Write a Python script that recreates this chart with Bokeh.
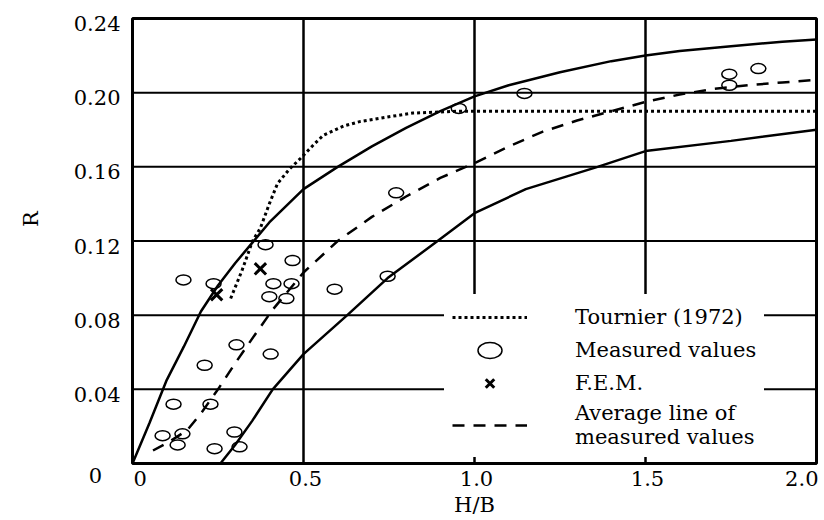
from bokeh.plotting import figure
from bokeh.models import Range1d, Legend, LegendItem, Label
from bokeh.embed import file_html
from bokeh.resources import INLINE
import math

# ---------------- data ----------------
x_lim = [0, 2.0]
y_lim = [0, 0.24]
# upper envelope (solid)
upper_x = [0, 0.05, 0.1, 0.15, 0.2, 0.25, 0.3, 0.35, 0.4, 0.5, 0.6, 0.7, 0.8, 0.9, 1.0, 1.1, 1.25, 1.4, 1.5, 1.6, 1.75, 1.9, 2.0]
upper_y = [0, 0.022, 0.045, 0.063, 0.082, 0.096, 0.108, 0.119, 0.130, 0.148, 0.160, 0.171, 0.181, 0.190, 0.198, 0.204, 0.211, 0.217, 0.220, 0.2225, 0.225, 0.2275, 0.2287]
# lower envelope (solid)
lower_x = [0.257, 0.3, 0.35, 0.41, 0.5, 0.628, 0.746, 0.892, 1.0, 1.15, 1.36, 1.5, 1.75, 2.0]
lower_y = [0, 0.010, 0.023, 0.040, 0.059, 0.080, 0.100, 0.120, 0.135, 0.148, 0.160, 0.1685, 0.174, 0.180]
# Tournier (1972) (dotted)
tour_x = [0.287, 0.32, 0.351, 0.374, 0.40, 0.424, 0.46, 0.491, 0.53, 0.558, 0.617, 0.667, 0.75, 0.82, 0.95, 1.2, 1.5, 1.8, 2.0]
tour_y = [0.089, 0.104, 0.120, 0.127, 0.140, 0.151, 0.159, 0.1645, 0.172, 0.177, 0.182, 0.1845, 0.187, 0.189, 0.190, 0.190, 0.190, 0.190, 0.190]
# average line of measured values (dashed)
avg_x = [0.06, 0.11, 0.16, 0.2, 0.25, 0.3, 0.36, 0.41, 0.5, 0.6, 0.7, 0.8, 0.9, 1.0, 1.1, 1.2, 1.3, 1.4, 1.5, 1.6, 1.7, 1.8, 1.9, 2.0]
avg_y = [0.007, 0.012, 0.018, 0.027, 0.040, 0.054, 0.070, 0.083, 0.103, 0.120, 0.133, 0.144, 0.154, 0.162, 0.171, 0.179, 0.185, 0.190, 0.195, 0.199, 0.202, 0.204, 0.2055, 0.207]
# measured values (circles)
meas_x = [0.389, 0.468, 0.149, 0.237, 0.412, 0.465, 0.40, 0.45, 0.304, 0.404, 0.211, 0.12, 0.228, 0.088,
          0.146, 0.132, 0.24, 0.298, 0.313, 0.591, 0.746, 0.771, 0.954, 1.146, 1.745, 1.83, 1.745]
meas_y = [0.118, 0.1095, 0.099, 0.097, 0.097, 0.097, 0.090, 0.089, 0.064, 0.059, 0.053, 0.032, 0.032, 0.015,
          0.016, 0.010, 0.008, 0.017, 0.009, 0.094, 0.101, 0.146, 0.1915, 0.1996, 0.210, 0.213, 0.204]
# F.E.M. (crosses)
fem_x = [0.246, 0.374]
fem_y = [0.091, 0.105]

xgrid_ticks = [0.5, 1.0, 1.5]
ygrid_ticks = [0.04, 0.08, 0.12, 0.16, 0.20]
xtick_values = [0, 0.5, 1.0, 1.5, 2.0]
xtick_labels = ["0", "0.5", "1.0", "1.5", "2.0"]
ytick_values = [0, 0.04, 0.08, 0.12, 0.16, 0.20, 0.24]
ytick_labels = ["0", "0.04", "0.08", "0.12", "0.16", "0.20", "0.24"]
x_title = "H/B"
y_title = "R"

FONT = "DejaVu Serif"

# layout: plot box spans px 132..816 horizontally and 18..463 vertically
W, H = 820, 518
L, R, T, B = 132, 816, 18, 463
sx = (x_lim[1] - x_lim[0]) / (R - L)
sy = (y_lim[1] - y_lim[0]) / (B - T)
xr = Range1d(x_lim[0] - L * sx, x_lim[1] + (W - R) * sx)
yr = Range1d(y_lim[0] - (H - B) * sy, y_lim[1] + T * sy)

p = figure(width=W, height=H, x_range=xr, y_range=yr,
           output_backend="svg", toolbar_location=None,
           x_axis_location=None, y_axis_location=None,
           min_border=0, min_border_left=0, min_border_right=0, min_border_top=0, min_border_bottom=0)
p.xgrid.visible = False
p.ygrid.visible = False
p.outline_line_color = None
p.background_fill_color = "white"
p.border_fill_color = "white"

# grid lines inside the plot box
p.segment(x0=xgrid_ticks, y0=[y_lim[0]] * len(xgrid_ticks), x1=xgrid_ticks, y1=[y_lim[1]] * len(xgrid_ticks),
          line_color="black", line_width=2.5)
p.segment(x0=[x_lim[0]] * len(ygrid_ticks), y0=ygrid_ticks, x1=[x_lim[1]] * len(ygrid_ticks), y1=ygrid_ticks,
          line_color="black", line_width=2)

r_up = p.line(upper_x, upper_y, line_color="black", line_width=2.5)
r_lo = p.line(lower_x, lower_y, line_color="black", line_width=2.5)
r_tour = p.line(tour_x, tour_y, line_color="black", line_width=3, line_dash="3 3")
r_avg = p.line(avg_x, avg_y, line_color="black", line_width=2.5, line_dash="12 9")
r_meas = p.ellipse(x=meas_x, y=meas_y, width=15, height=10, width_units="screen", height_units="screen",
                   fill_alpha=0, line_color="black", line_width=1.5)
r_fem = p.scatter(fem_x, fem_y, marker="x", size=16, line_color="black", line_width=3)

# plot box border
p.quad(left=[x_lim[0]], right=[x_lim[1]], bottom=[y_lim[0]], top=[y_lim[1]],
       fill_alpha=0, line_color="black", line_width=3)

legend = Legend(items=[
    LegendItem(label="Tournier (1972)", renderers=[r_tour]),
    LegendItem(label="Measured values", renderers=[r_meas]),
    LegendItem(label="F.E.M.", renderers=[r_fem]),
    LegendItem(label="Average line of\nmeasured values", renderers=[r_avg]),
], location=(444, 61), glyph_width=75, glyph_height=30, label_height=30, spacing=3,
    label_standoff=48, padding=8, border_line_alpha=0, background_fill_color="white",
    background_fill_alpha=1, label_text_font=FONT, label_text_font_size="21px",
    label_text_line_height=1.25, label_text_color="black")
p.add_layout(legend)

tick_style = dict(text_font=FONT, text_font_size="21px", text_color="black", text_baseline="middle")
for v, t in zip(ytick_values, ytick_labels):
    if v == 0:
        p.add_layout(Label(x=x_lim[0], y=v, text=t, x_offset=-37, y_offset=-12, text_align="center", **tick_style))
    else:
        p.add_layout(Label(x=x_lim[0], y=v, text=t, x_offset=-12, y_offset=-5, text_align="right", **tick_style))
for i, (v, t) in enumerate(zip(xtick_values, xtick_labels)):
    if i == 0:
        al, off = "left", 1
    elif i == len(xtick_values) - 1:
        al, off = "right", 2
    else:
        al, off = "center", 2
    p.add_layout(Label(x=v, y=y_lim[0], text=t, x_offset=off, y_offset=-15, text_align=al, **tick_style))

p.add_layout(Label(x=(x_lim[0] + x_lim[1]) / 2, y=y_lim[0], text=x_title, x_offset=0, y_offset=-41,
                   text_align="center", **tick_style))
p.add_layout(Label(x=x_lim[0], y=(y_lim[0] + y_lim[1]) / 2, text=y_title, x_offset=-102, y_offset=22,
                   text_align="center", angle=math.pi / 2, **tick_style))

open("out.html", "w").write(file_html(p, INLINE))
